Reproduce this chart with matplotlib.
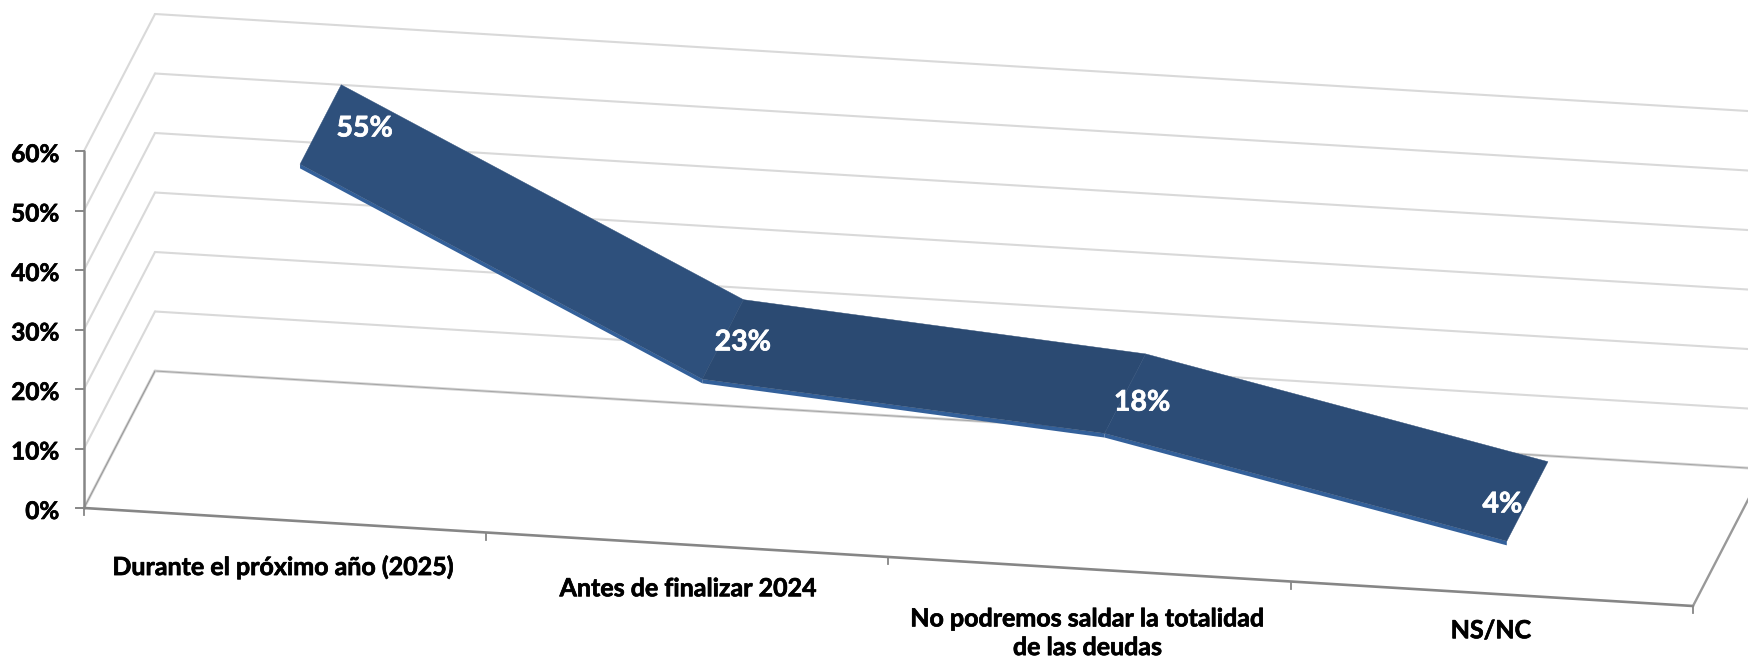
import matplotlib
matplotlib.use('Agg')
import matplotlib.pyplot as plt
import matplotlib.patheffects as pe
import numpy as np

categories = ['Durante el próximo año (2025)', 'Antes de finalizar 2024',
              'No podremos saldar la totalidad\nde las deudas', 'NS/NC']
values = [55, 23, 18, 4]
value_labels = ['55%', '23%', '18%', '4%']
y_ticks = [0, 10, 20, 30, 40, 50, 60]
y_tick_labels = ['0%', '10%', '20%', '30%', '40%', '50%', '60%']

plt.rcParams['font.family'] = ['Lato', 'DejaVu Sans']

W, H = 1749, 658
fig = plt.figure(figsize=(W / 100, H / 100), dpi=100)
ax = fig.add_axes([0, 0, 1, 1])
ax.set_xlim(0, W)
ax.set_ylim(H, 0)
ax.axis('off')


# Oblique projection of the Excel 3D box: category position, value, depth -> pixels
def project(cat, val, depth=0.0):
    x = 84 + 402.25 * cat + 71 * depth
    y = 508 + 24.5 * cat - 5.95 * val - 137 * depth
    return x, y


def seg(p, q, **kw):
    ax.plot([p[0], q[0]], [p[1], q[1]], solid_capstyle='round', **kw)


def heavier(color):
    return [pe.withStroke(linewidth=0.5, foreground=color)]


n = len(categories)
grid = '#d9d9d9'
axis_col = '#868686'

# gridlines on the side wall and back wall
for v in y_ticks[1:]:
    seg(project(0, v), project(0, v, 1), color=grid, lw=1.5, zorder=1)
    seg(project(0, v, 1), project(n, v, 1), color=grid, lw=1.5, zorder=1)

# floor
seg(project(0, 0, 1), project(n, 0, 1), color='#d4d4d4', lw=2.0, zorder=1)
seg(project(0, 0, 1), project(n, 0, 1), color='#a6a6a6', lw=0.7, zorder=1)
seg(project(0, 0), project(0, 0, 1), color='#d4d4d4', lw=2.0, zorder=1)
seg(project(0, 0), project(0, 0, 1), color='#999999', lw=0.8, zorder=1)
seg(project(0, 0), project(n, 0), color=axis_col, lw=1.9, zorder=2)
seg(project(n, 0), project(n, 0, 1), color='#999999', lw=1.7, zorder=2)

# value axis and ticks
seg(project(0, 60), project(0, 0), color=axis_col, lw=1.8, zorder=2)
for v, lab in zip(y_ticks, y_tick_labels):
    x, y = project(0, v)
    ax.plot([x - 8, x], [y, y], color=axis_col, lw=1.4, zorder=2)
    ax.text(59, y + 3.5, lab, ha='right', va='center', fontsize=17.5,
            fontweight='bold', color='black', path_effects=heavier('black'))

# category ticks
for i in range(n + 1):
    x, y = project(i, 0)
    ax.plot([x, x], [y, y + 7], color=axis_col, lw=1.3, zorder=2)

# ribbon
d0, d1 = 0.21, 0.79
top_cols = ['#2e507c', '#2b4a72', '#2c4c76']
for i in range(n - 1):
    a, b = i + 0.5, i + 1.5
    va, vb = values[i], values[i + 1]
    ax.fill(*zip(project(a, va, d0), project(b, vb, d0),
                 project(b, vb - 0.7, d0), project(a, va - 0.7, d0)),
            color='#33609a', lw=0, zorder=3)
    ax.fill(*zip(project(a, va, d0), project(b, vb, d0),
                 project(b, vb, d1), project(a, va, d1)),
            color=top_cols[i], lw=0.3, zorder=4)

# data labels
label_dx = [44, 20, 17, -25]
label_dy = [4, 3, 9, 3]
for i, lab in enumerate(value_labels):
    x, y = project(i + 0.5, values[i], 0.5)
    ax.text(x + label_dx[i], y + label_dy[i], lab, ha='center', va='center',
            fontsize=20.5, fontweight='bold', color='white', zorder=5,
            path_effects=heavier('white'))

# category labels
cat_dx = [-2, 1, -2, -1]
cat_dy = [47, 44, 64, 37]
for i, lab in enumerate(categories):
    x, y = project(i + 0.5, 0)
    ax.text(x + cat_dx[i], y + cat_dy[i], lab, ha='center', va='center',
            fontsize=18, fontweight='bold', color='black', linespacing=1.3,
            path_effects=heavier('black'))

fig.savefig('out.png', dpi=100)
